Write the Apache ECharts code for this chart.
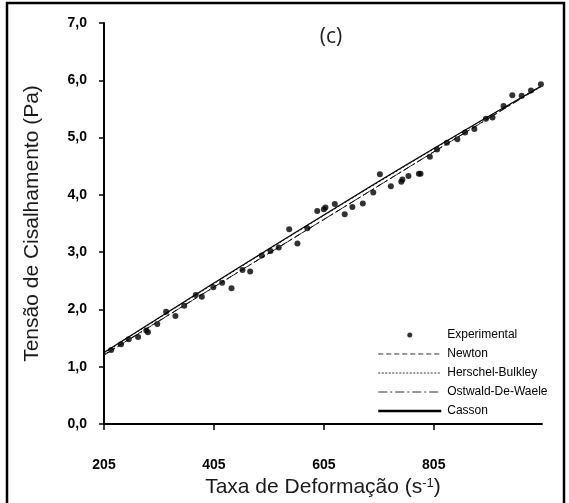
<!DOCTYPE html>
<html><head><meta charset="utf-8">
<script src="https://cdn.jsdelivr.net/npm/echarts@6/dist/echarts.min.js"></script>
<style>html,body{margin:0;padding:0;background:#fff}#c{width:569px;height:503px}</style>
</head><body><div id="c"></div>
<script>
// Experimental points (shear rate s^-1, shear stress Pa)
const expX = [218,236,250,267,282,285,302,318,335,351,372,383,404,420,437,457,471,492,508,523,542,557,575,593,605,608,625,643,657,676,695,707,727,746,748,759,778,781,798,811,829,848,862,879,900,912,932,948,965,982,1000];
const expY = [1.29,1.39,1.48,1.52,1.63,1.60,1.745,1.96,1.885,2.065,2.25,2.22,2.385,2.465,2.37,2.69,2.66,2.94,3.02,3.08,3.40,3.15,3.415,3.72,3.75,3.78,3.84,3.66,3.79,3.85,4.04,4.36,4.15,4.23,4.27,4.33,4.37,4.37,4.665,4.79,4.91,4.97,5.09,5.15,5.33,5.35,5.55,5.74,5.73,5.82,5.93];
// Model curves, read at a few shear rates
const modelX = [205,405,605,805,1000];
const newtonY = [1.21,2.39,3.57,4.75,5.90];
const hbY = [1.24,2.45,3.64,4.80,5.90];
const owY = [1.20,2.39,3.57,4.75,5.89];
const cassonY = [1.25,2.46,3.65,4.81,5.89];
const xTicks = [205,405,605,805];
const seriesNames = ['Experimental','Newton','Herschel-Bulkley','Ostwald-De-Waele','Casson'];

const pairs = (xs, ys) => xs.map((x, i) => [x, ys[i]]);
const chart = echarts.init(document.getElementById('c'));
const lineSeries = (name, ys, lineStyle) => ({
  name, type: 'line', data: pairs(modelX, ys), symbol: 'none', smooth: true,
  itemStyle: {color: '#111'},
  lineStyle: Object.assign({color: '#111'}, lineStyle), z: 2, animation: false
});
const hideSym = {opacity: 0};
chart.setOption({
  animation: false,
  backgroundColor: '#fff',
  title: {text: '(c)', left: 326, top: 22, textAlign: 'center',
    textStyle: {fontFamily: 'Open Sans', fontSize: 21, fontWeight: 'normal', color: '#222'}},
  grid: {left: 104, right: 27, top: 23, bottom: 79},
  xAxis: {
    type: 'value', min: 205, max: 1002,
    name: '{a|Taxa de Deformação (s}{s|-1}{a|)}', nameLocation: 'middle', nameGap: 51,
    nameTextStyle: {rich: {
      a: {fontFamily: 'Liberation Sans', fontSize: 21, color: '#1a1a1a'},
      s: {fontFamily: 'Liberation Sans', fontSize: 13, color: '#1a1a1a', verticalAlign: 'top', padding: [0,0,8,0]}
    }},
    axisLine: {lineStyle: {color: '#000', width: 2}},
    axisTick: {length: 6, lineStyle: {color: '#000', width: 1.5}, customValues: xTicks},
    axisLabel: {customValues: xTicks, margin: 34, fontFamily: 'Liberation Sans', fontSize: 14, fontWeight: 'bold', color: '#000'},
    splitLine: {show: false}
  },
  yAxis: {
    type: 'value', min: 0, max: 7, interval: 1,
    name: 'Tensão de Cisalhamento (Pa)', nameLocation: 'middle', nameGap: 61,
    nameTextStyle: {fontFamily: 'Liberation Sans', fontSize: 21, color: '#1a1a1a'},
    axisLine: {show: true, lineStyle: {color: '#000', width: 2}},
    axisTick: {show: true, length: 5, lineStyle: {color: '#000', width: 1.5}},
    axisLabel: {margin: 17, fontFamily: 'Liberation Sans', fontSize: 14, fontWeight: 'bold', color: '#000',
      formatter: v => v.toFixed(1).replace('.', ',')},
    splitLine: {show: false}
  },
  legend: {
    orient: 'vertical', left: 372, top: 323, itemWidth: 63, itemHeight: 5, itemGap: 5,
    textStyle: {fontFamily: 'Liberation Sans', fontSize: 12, color: '#000', lineHeight: 14, padding: [0,0,0,1]},
    data: [
      {name: seriesNames[0], icon: 'circle', itemStyle: {color: '#000'}},
      {name: seriesNames[1], itemStyle: hideSym, lineStyle: {color: '#333', width: 1, type: [5, 3]}},
      {name: seriesNames[2], itemStyle: hideSym, lineStyle: {color: '#333', width: 1, type: [2, 1.5]}},
      {name: seriesNames[3], itemStyle: hideSym, lineStyle: {color: '#333', width: 1, type: [9, 3, 2, 3]}},
      {name: seriesNames[4], itemStyle: hideSym, lineStyle: {color: '#000', width: 2.5, type: 'solid'}}
    ]
  },
  series: [
    {name: seriesNames[0], type: 'scatter', data: pairs(expX, expY), symbol: 'circle', symbolSize: 6,
      itemStyle: {color: '#000'}, z: 3, clip: false},
    lineSeries(seriesNames[4], cassonY, {type: 'solid', width: 1.2, color: '#000'}),
    lineSeries(seriesNames[1], newtonY, {type: [5, 3], width: 1}),
    lineSeries(seriesNames[2], hbY, {type: [2, 2], width: 1}),
    lineSeries(seriesNames[3], owY, {type: [8, 3, 2, 3], width: 1})
  ],
  graphic: [{type: 'rect', shape: {x: 7, y: 3, width: 557, height: 510},
    style: {fill: 'none', stroke: '#000', lineWidth: 2.5}, silent: true}]
});
</script></body></html>
